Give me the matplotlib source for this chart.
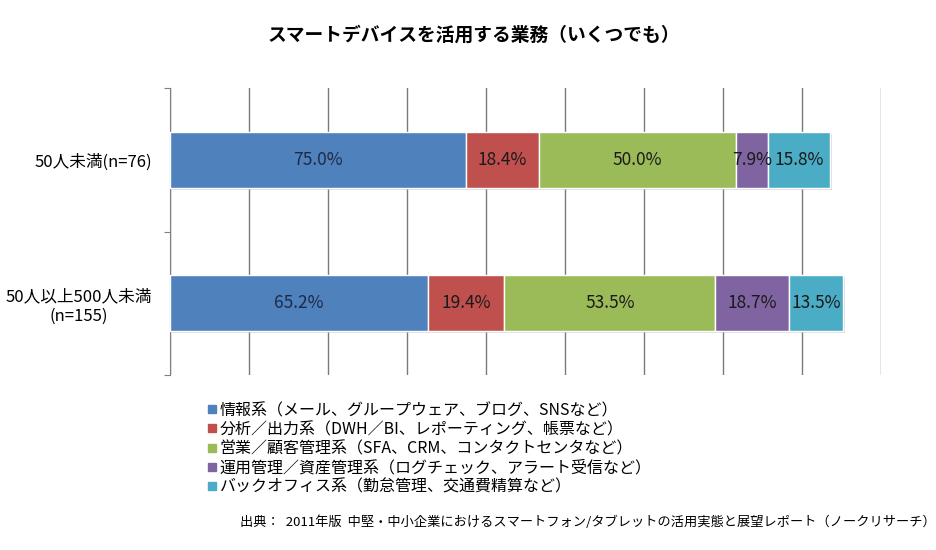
import numpy as np
import matplotlib
matplotlib.use('Agg')
import matplotlib.pyplot as plt
from matplotlib.lines import Line2D
import matplotlib.patheffects as pe

plt.rcParams['font.family'] = ['Noto Sans CJK JP', 'DejaVu Sans']

groups = ['50人未満(n=76)', '50人以上500人未満\n(n=155)']
series_names = [
    '情報系（メール、グループウェア、ブログ、SNSなど）',
    '分析／出力系（DWH／BI、レポーティング、帳票など）',
    '営業／顧客管理系（SFA、CRM、コンタクトセンタなど）',
    '運用管理／資産管理系（ログチェック、アラート受信など）',
    'バックオフィス系（勤怠管理、交通費精算など）',
]
info = [75.0, 65.2]
analysis = [18.4, 19.4]
sales = [50.0, 53.5]
ops = [7.9, 18.7]
backoffice = [15.8, 13.5]
values = [info, analysis, sales, ops, backoffice]
colors = ['#4F81BD', '#C0504D', '#9BBB59', '#8064A2', '#4BACC6']
text_colors = ['#1F2A44', '#1a1a1a', '#1a1a1a', '#1a1a1a', '#1a1a1a']

fig = plt.figure(figsize=(9.36, 5.5), dpi=100)
ax = fig.add_axes([170 / 936, 1 - 375 / 550, 711 / 936, 287 / 550])
ax.set_axisbelow(True)

y = np.arange(len(groups))
left = np.zeros(len(groups))
shadow = [pe.SimplePatchShadow(offset=(1.5, -1.5), shadow_rgbFace='#bbbbbb', alpha=0.5), pe.Normal()]
for vals, col, tcol in zip(values, colors, text_colors):
    bars = ax.barh(y, vals, left=left, height=0.39, color=col, edgecolor='white',
                   linewidth=1.0, zorder=3)
    for b in bars:
        b.set_path_effects(shadow)
    for yi, v, l in zip(y, vals, left):
        ax.text(l + v / 2, yi, f'{v:.1f}%', ha='center', va='center',
                fontsize=12.5, color=tcol, zorder=4)
    left = left + np.array(vals)

ax.set_xlim(0, 180)
ax.set_ylim(1.5, -0.5)
ax.set_xticks(np.arange(0, 181, 20))
ax.set_xticklabels([])
ax.tick_params(axis='x', length=0)
ax.xaxis.grid(True, color='#7a7a7a', linewidth=1.0)
ax.set_yticks([-0.5, 0.5, 1.5], minor=False)
ax.set_yticklabels([])
ax.tick_params(axis='y', which='major', length=4, direction='out', color='#808080')
ax.set_yticks(y, minor=True)
ax.set_yticklabels(groups, minor=True, fontsize=12, ha='right', multialignment='center')
ax.tick_params(axis='y', which='minor', length=0, pad=13)
for s in ['top', 'right', 'bottom']:
    ax.spines[s].set_visible(False)
ax.spines['left'].set_color('#808080')

fig.text(474 / 936, 1 - 35 / 550, 'スマートデバイスを活用する業務（いくつでも）', ha='center',
         va='center', fontsize=13.5, fontweight='bold')

handles = [Line2D([], [], marker='s', linestyle='none', markersize=6,
                  markerfacecolor=c, markeredgecolor=c) for c in colors]
fig.legend(handles, series_names, loc='upper left',
           bbox_to_anchor=(207 / 936, 1 - 402 / 550), frameon=False,
           fontsize=11.5, handlelength=0.6, handletextpad=0.2, labelspacing=0.13,
           borderpad=0, borderaxespad=0)

fig.text(240 / 936, 1 - 522 / 550,
         '出典：  2011年版  中堅・中小企業におけるスマートフォン/タブレットの活用実態と展望レポート（ノークリサーチ）',
         ha='left', va='center', fontsize=9.5)

fig.savefig('out.png', dpi=100)
